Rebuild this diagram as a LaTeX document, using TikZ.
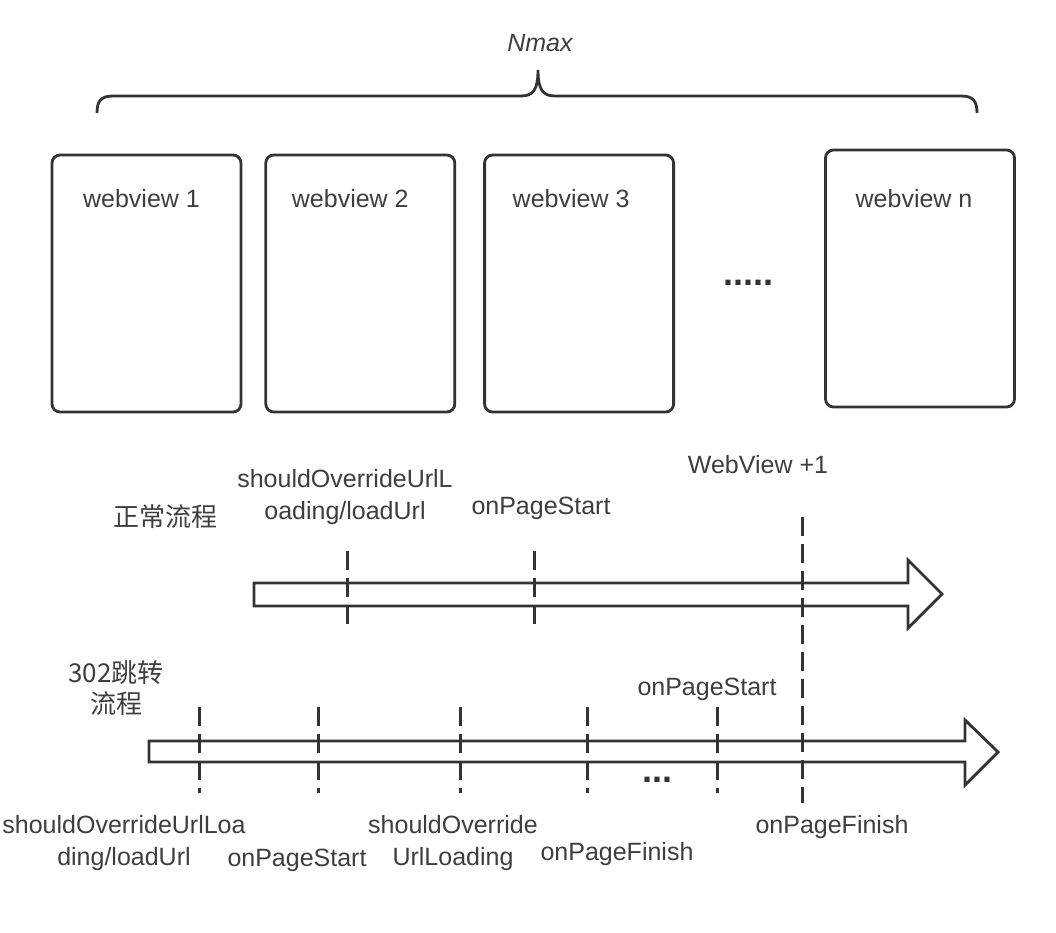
\documentclass[tikz,border=0pt]{standalone}
\usepackage{fontspec}
\setmainfont{Liberation Sans}
\newfontfamily\cjk{Noto Sans CJK SC}
\usepackage{xcolor}
\usetikzlibrary{positioning}
\definecolor{InkLine}{HTML}{333333}
\definecolor{InkText}{HTML}{3E3E3E}

\begin{document}
\begin{tikzpicture}[
      x=1pt,y=-1pt,
      viewbox/.style={
        draw=InkLine,
        rounded corners=8pt,
        line width=2.8pt,
        minimum width=189pt,
        minimum height=257pt,
        inner sep=0pt
      },
      lbl/.style={
        text=InkText,
        inner sep=0pt,
        align=center,
        font=\fontsize{25}{32}\selectfont
      },
      cjklbl/.style={lbl,font=\fontsize{26}{31}\selectfont\cjk},
      dots/.style={text=InkLine,inner sep=0pt,font=\fontsize{36}{36}\selectfont\bfseries},
      flowarrow/.style={draw=InkLine,fill=white,line width=2.8pt,line join=miter},
      tick/.style={draw=InkLine,line width=3pt,dash pattern=on 19pt off 8pt},
      bracket/.style={draw=InkLine,line width=2.8pt}
    ]
      \useasboundingbox[fill=white] (0,0) rectangle (1056,932);
      \node[viewbox] (v1) at (146.5,283.5) {};
      \node[viewbox,right=22pt of v1] (v2) {};
      \node[viewbox,right=27pt of v2] (v3) {};
      \node[viewbox] (vn) at (920,278.5) {};
      \node[lbl] (t1) at ([xshift=-5pt,yshift=-45pt]v1.north) {webview 1};
      \node[lbl] (t2) at ([xshift=-10pt,yshift=-45pt]v2.north) {webview 2};
      \node[lbl] (t3) at ([xshift=-8pt,yshift=-45pt]v3.north) {webview 3};
      \node[lbl] (tn) at ([xshift=-6pt,yshift=-50pt]vn.north) {webview n};
      \node[dots] (more) at (748,283) {.....};
      \node[lbl] (nmax) at (540,43) {\itshape Nmax};
      \draw[bracket] (97,113) .. controls (97,101) and (101,96) .. (113,96) -- (521,96)
        .. controls (533,96) and (538,90) .. (538,70)
        .. controls (538,90) and (543,96) .. (555,96) -- (961,96)
        .. controls (973,96) and (977,101) .. (977,113);
      \draw[flowarrow] (254,583) -- (908,583) -- (908,560) -- (942,594)
        -- (908,628) -- (908,606) -- (254,606) -- cycle;
      \draw[flowarrow] (149,741) -- (965,741) -- (965,720) -- (998,752)
        -- (965,785) -- (965,762) -- (149,762) -- cycle;
      \foreach \x in {347,534}
        \draw[tick] (\x,551) -- (\x,627);
      \foreach \x in {199,318,460,587,717}
        \draw[tick] (\x,707) -- (\x,793);
      \draw[tick] (802,517) -- (802,803);
      \node[dots] (gap) at (657,780) {...};
      \node[cjklbl] (normal) at (165,517) {正常流程};
      \node[lbl] (n1) at (345,497) {shouldOverrideUrlL\\oading/loadUrl};
      \node[lbl] (n2) at (541,508) {onPageStart};
      \node[lbl] (wv) at (758,465) {WebView +1};
      \node[cjklbl] (redir) at (116,688) {302跳转\\流程};
      \node[lbl] (r5) at (707,689) {onPageStart};
      \node[lbl] (r1) at (124,843) {shouldOverrideUrlLoa\\ding/loadUrl};
      \node[lbl] (r2) at (297,860) {onPageStart};
      \node[lbl] (r3) at (453,843) {shouldOverride\\UrlLoading};
      \node[lbl] (r4) at (617,854) {onPageFinish};
      \node[lbl] (fin) at (832,827) {onPageFinish};
    \end{tikzpicture}
\end{document}
